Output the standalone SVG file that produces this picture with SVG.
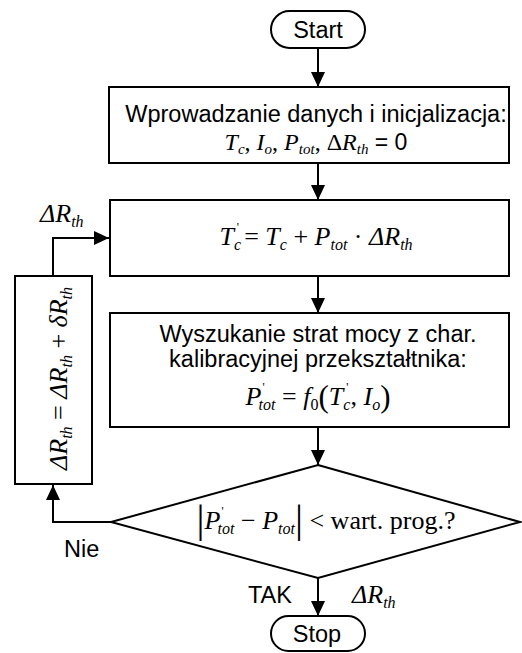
<svg xmlns="http://www.w3.org/2000/svg" width="522" height="653" viewBox="0 0 522 653">
<defs>
<marker id="ah" markerUnits="userSpaceOnUse" markerWidth="16" markerHeight="14" refX="15" refY="7" orient="auto"><path d="M0,0 L15,7 L0,14 z" fill="#000"/></marker>
<style>
.s{fill:#fff;stroke:#000;stroke-width:2}
.c{fill:none;stroke:#000;stroke-width:2;marker-end:url(#ah)}
.a{font-family:"Liberation Sans",Arial,sans-serif;font-size:23.5px;fill:#000}
.m{font-family:"Liberation Serif","Times New Roman",serif;font-size:26px;font-style:italic;fill:#000}
.sb{font-size:16px}
.pr{font-size:12px;font-style:normal}
.up{font-style:normal}
</style>
</defs>
<rect width="522" height="653" fill="#fff"/>
<g id="connectors">
<line class="c" x1="318" y1="48" x2="318" y2="87"/>
<line class="c" x1="318" y1="163" x2="318" y2="200"/>
<line class="c" x1="318" y1="276" x2="318" y2="313"/>
<line class="c" x1="318" y1="427" x2="318" y2="465"/>
<line class="c" x1="318" y1="578" x2="318" y2="616"/>
<polyline class="c" points="111,522 53,522 53,485"/>
<polyline class="c" points="53,276 53,238 109,238"/>
</g>
<g id="start">
<rect class="s" x="271" y="11" width="94" height="37" rx="18.5"/>
<text class="a" x="318" y="38" text-anchor="middle">Start</text>
</g>
<g id="init">
<rect class="s" x="109" y="87" width="400" height="76"/>
<text class="a" x="316" y="122" text-anchor="middle">Wprowadzanie danych i inicjalizacja:</text>
<text x="316" y="150" text-anchor="middle" style="font-family:'Liberation Serif','Times New Roman',serif;font-size:24px;font-style:italic"><tspan>T</tspan><tspan dy="4" font-size="15">c</tspan><tspan dy="-4" font-style="normal">, </tspan><tspan>I</tspan><tspan dy="4" font-size="15">o</tspan><tspan dy="-4" font-style="normal">, </tspan><tspan>P</tspan><tspan dy="4" font-size="15">tot</tspan><tspan dy="-4" font-style="normal">, Δ</tspan><tspan>R</tspan><tspan dy="4" font-size="15">th</tspan><tspan dy="-4" font-style="normal" style="font-family:'Liberation Sans',Arial,sans-serif;font-size:23px"> = 0</tspan></text>
</g>
<g id="calc">
<rect class="s" x="110" y="200" width="399" height="76"/>
<text class="m" x="316" y="245" text-anchor="middle"><tspan>T</tspan><tspan class="pr" dy="-14" dx="3">'</tspan><tspan class="sb" dx="-5" dy="19">c</tspan><tspan class="up" dy="-5" dx="3">= </tspan><tspan>T</tspan><tspan class="sb" dy="5">c</tspan><tspan class="up" dy="-5"> + </tspan><tspan>P</tspan><tspan class="sb" dy="5">tot</tspan><tspan class="up" dy="-5"> · </tspan><tspan>ΔR</tspan><tspan class="sb" dy="5">th</tspan></text>
</g>
<g id="lookup">
<rect class="s" x="110" y="313" width="399" height="114"/>
<text class="a" x="318" y="342" text-anchor="middle" font-size="24">Wyszukanie strat mocy z char.</text>
<text class="a" x="318" y="367" text-anchor="middle" font-size="24">kalibracyjnej przekształtnika:</text>
<text class="m" x="318" y="405" text-anchor="middle"><tspan>P</tspan><tspan class="pr" dy="-14" dx="1">'</tspan><tspan class="sb" dx="-6" dy="19">tot</tspan><tspan dy="-5" class="up"> = </tspan><tspan>f</tspan><tspan class="sb up" dy="5">0</tspan><tspan class="up" dy="-3" font-size="31">(</tspan><tspan dy="-2">T</tspan><tspan class="pr" dy="-14" dx="3">'</tspan><tspan class="sb" dx="-5" dy="19">c</tspan><tspan class="up" dy="-5">, </tspan><tspan>I</tspan><tspan class="sb" dy="5">o</tspan><tspan class="up" dy="-3" font-size="31">)</tspan></text>
</g>
<g id="decision">
<polygon class="s" points="318,465 520,522 318,578 111,522"/>
<text class="m" x="326" y="529" text-anchor="middle"><tspan class="up" font-size="40" dy="3">|</tspan><tspan dy="-3">P</tspan><tspan class="pr" dy="-14" dx="1">'</tspan><tspan class="sb" dx="-6" dy="19">tot</tspan><tspan dy="-5" class="up"> − </tspan><tspan>P</tspan><tspan class="sb" dy="5">tot</tspan><tspan class="up" dy="-2" font-size="40">|</tspan><tspan class="up" dy="-3"> &lt; wart. prog.?</tspan></text>
</g>
<g id="update">
<rect class="s" x="15" y="276" width="77" height="208"/>
<text class="m" transform="translate(67,470) rotate(-90)"><tspan>ΔR</tspan><tspan class="sb" dy="5">th</tspan><tspan class="up" dy="-5"> = </tspan><tspan>ΔR</tspan><tspan class="sb" dy="5">th</tspan><tspan class="up" dy="-5"> + </tspan><tspan>δR</tspan><tspan class="sb" dy="5">th</tspan></text>
</g>
<g id="stop">
<rect class="s" x="271" y="616" width="94" height="35" rx="17.5"/>
<text class="a" x="317" y="642" text-anchor="middle">Stop</text>
</g>
<g id="labels">
<text class="m" x="40" y="222"><tspan>ΔR</tspan><tspan class="sb" dy="5">th</tspan></text>
<text class="a" x="64" y="557">Nie</text>
<text class="a" x="248" y="603">TAK</text>
<text class="m" x="352" y="603"><tspan>ΔR</tspan><tspan class="sb" dy="5">th</tspan></text>
</g>
</svg>
